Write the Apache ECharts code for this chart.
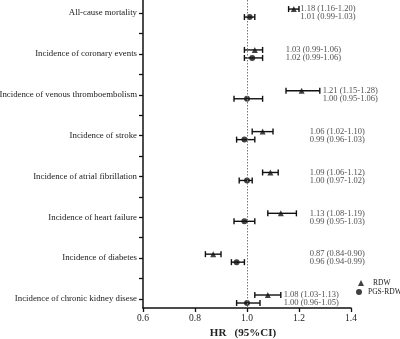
<!DOCTYPE html>
<html>
<head>
<meta charset="utf-8">
<script src="https://cdn.jsdelivr.net/npm/echarts@6/dist/echarts.min.js"></script>
<style>html,body{margin:0;padding:0;background:#fff;}#c{width:400px;height:339px;}</style>
</head>
<body>
<div id="c"></div>
<script>
// ---- data ----
var categories = ['All-cause mortality','Incidence of coronary events','Incidence of venous thromboembolism','Incidence of stroke','Incidence of atrial fibrillation','Incidence of heart failure','Incidence of diabetes','Incidence of chronic kidney disese'];
var rdwHR   = [1.18, 1.03, 1.21, 1.06, 1.09, 1.13, 0.87, 1.08];
var rdwLow  = [1.16, 0.99, 1.15, 1.02, 1.06, 1.08, 0.84, 1.03];
var rdwHigh = [1.20, 1.06, 1.28, 1.10, 1.12, 1.19, 0.90, 1.13];
var pgsHR   = [1.01, 1.02, 1.00, 0.99, 1.00, 0.99, 0.96, 1.00];
var pgsLow  = [0.99, 0.99, 0.95, 0.96, 0.97, 0.95, 0.94, 0.96];
var pgsHigh = [1.03, 1.06, 1.06, 1.03, 1.02, 1.03, 0.99, 1.05];
var xTicks = [0.6, 0.8, 1.0, 1.2, 1.4];

// ---- layout (annotation text start, in HR units) ----
var annotX = [1.205, 1.149, 1.291, 1.241, 1.241, 1.241, 1.241, 1.141];

var FONT = '"Liberation Serif", "Times New Roman", serif';
function fmt(v){ return v.toFixed(2); }
function label(hr, lo, hi){ return fmt(hr) + ' (' + fmt(lo) + '-' + fmt(hi) + ')'; }

var rdwBars = [], pgsBars = [], rdwPts = [], pgsPts = [], rdwTxt = [], pgsTxt = [];
var rowTicks = [], halfTicks = [];
for (var i = 0; i < categories.length; i++) {
  rdwBars.push([rdwLow[i], rdwHigh[i], i]);
  pgsBars.push([pgsLow[i], pgsHigh[i], i]);
  rdwPts.push([rdwHR[i], i]);
  pgsPts.push([pgsHR[i], i]);
  rdwTxt.push({value: [annotX[i], i], t: label(rdwHR[i], rdwLow[i], rdwHigh[i])});
  pgsTxt.push({value: [annotX[i], i], t: label(pgsHR[i], pgsLow[i], pgsHigh[i])});
  rowTicks.push(i);
  halfTicks.push(i);
  if (i < categories.length - 1) halfTicks.push(i + 0.5);
}

function barRenderer(dy) {
  return function (params, api) {
    var a = api.coord([api.value(0), api.value(2)]);
    var b = api.coord([api.value(1), api.value(2)]);
    var y = a[1] + dy, h = 3;
    var st = {stroke: '#111', lineWidth: 1.4, fill: null};
    return {type: 'group', children: [
      {type: 'line', shape: {x1: a[0], y1: y, x2: b[0], y2: y}, style: st},
      {type: 'line', shape: {x1: a[0], y1: y - h, x2: a[0], y2: y + h}, style: st},
      {type: 'line', shape: {x1: b[0], y1: y - h, x2: b[0], y2: y + h}, style: st}
    ]};
  };
}

function textSeries(data, dy) {
  return {
    type: 'scatter', data: data, symbolSize: 0, silent: true,
    label: {show: true, position: 'right', distance: 0, offset: [0, dy],
      formatter: function (p) { return p.data.t; },
      fontFamily: FONT, fontSize: 8.5, color: '#1a1a1a'}
  };
}

var chart = echarts.init(document.getElementById('c'), null, {renderer: 'canvas'});
chart.setOption({
  animation: false,
  backgroundColor: '#fff',
  grid: {left: 143, right: 49, top: 0, bottom: 31, containLabel: false, outerBoundsMode: 'none'},
  legend: [
    {data: ['RDW'], left: 358, top: 279, padding: 0, orient: 'vertical', itemWidth: 6, itemHeight: 6,
      textStyle: {fontFamily: FONT, fontSize: 7.5, color: '#222', padding: [0, 0, 0, 4]}},
    {data: ['PGS-RDW'], left: 356, top: 288, padding: 0, orient: 'vertical', itemWidth: 6, itemHeight: 6,
      textStyle: {fontFamily: FONT, fontSize: 7.5, color: '#222', padding: [0, 0, 0, 1]}}
  ],
  xAxis: {
    type: 'value', min: 0.6, max: 1.4, interval: 0.2, position: 'bottom',
    name: 'HR   (95%CI)', nameLocation: 'middle', nameGap: 19,
    nameTextStyle: {fontFamily: FONT, fontSize: 11, fontWeight: 'bold', color: '#222', padding: [0, 8, 0, 0]},
    axisLine: {show: true, onZero: false, lineStyle: {color: '#111', width: 1.5}},
    axisTick: {show: true, length: 4, lineStyle: {color: '#111', width: 1.3}},
    axisLabel: {fontFamily: FONT, fontSize: 9.5, color: '#222', margin: 5,
      customValues: xTicks, formatter: function (v) { return v.toFixed(1); }},
    splitLine: {show: false}
  },
  yAxis: {
    type: 'value', inverse: true, min: -0.32, max: 7.22, position: 'left',
    axisLine: {show: true, onZero: false, lineStyle: {color: '#111', width: 1.5}},
    axisTick: {show: true, length: 4, customValues: halfTicks, lineStyle: {color: '#111', width: 1.3}},
    axisLabel: {show: true, customValues: rowTicks, margin: 6,
      fontFamily: FONT, fontSize: 8.8, color: '#1a1a1a',
      formatter: function (v) { return categories[Math.round(v)]; }},
    splitLine: {show: false}
  },
  series: [
    {type: 'custom', name: 'RDW CI', data: rdwBars, renderItem: barRenderer(-4), silent: true, z: 2,
      encode: {x: [0, 1], y: 2},
      markLine: {silent: true, symbol: 'none', label: {show: false},
        lineStyle: {color: '#777', type: [1.5, 1.5], width: 1},
        data: [{xAxis: 1.0}]}},
    {type: 'custom', name: 'PGS-RDW CI', data: pgsBars, renderItem: barRenderer(4), silent: true, z: 2,
      encode: {x: [0, 1], y: 2}},
    {type: 'scatter', name: 'RDW', data: rdwPts, symbol: 'triangle', symbolSize: 6,
      symbolOffset: [0, -4], itemStyle: {color: '#111'}, z: 3},
    {type: 'scatter', name: 'PGS-RDW', data: pgsPts, symbol: 'circle', symbolSize: 6,
      symbolOffset: [0, 4], itemStyle: {color: '#111'}, z: 3},
    textSeries(rdwTxt, -4),
    textSeries(pgsTxt, 4)
  ]
});
</script>
</body>
</html>
